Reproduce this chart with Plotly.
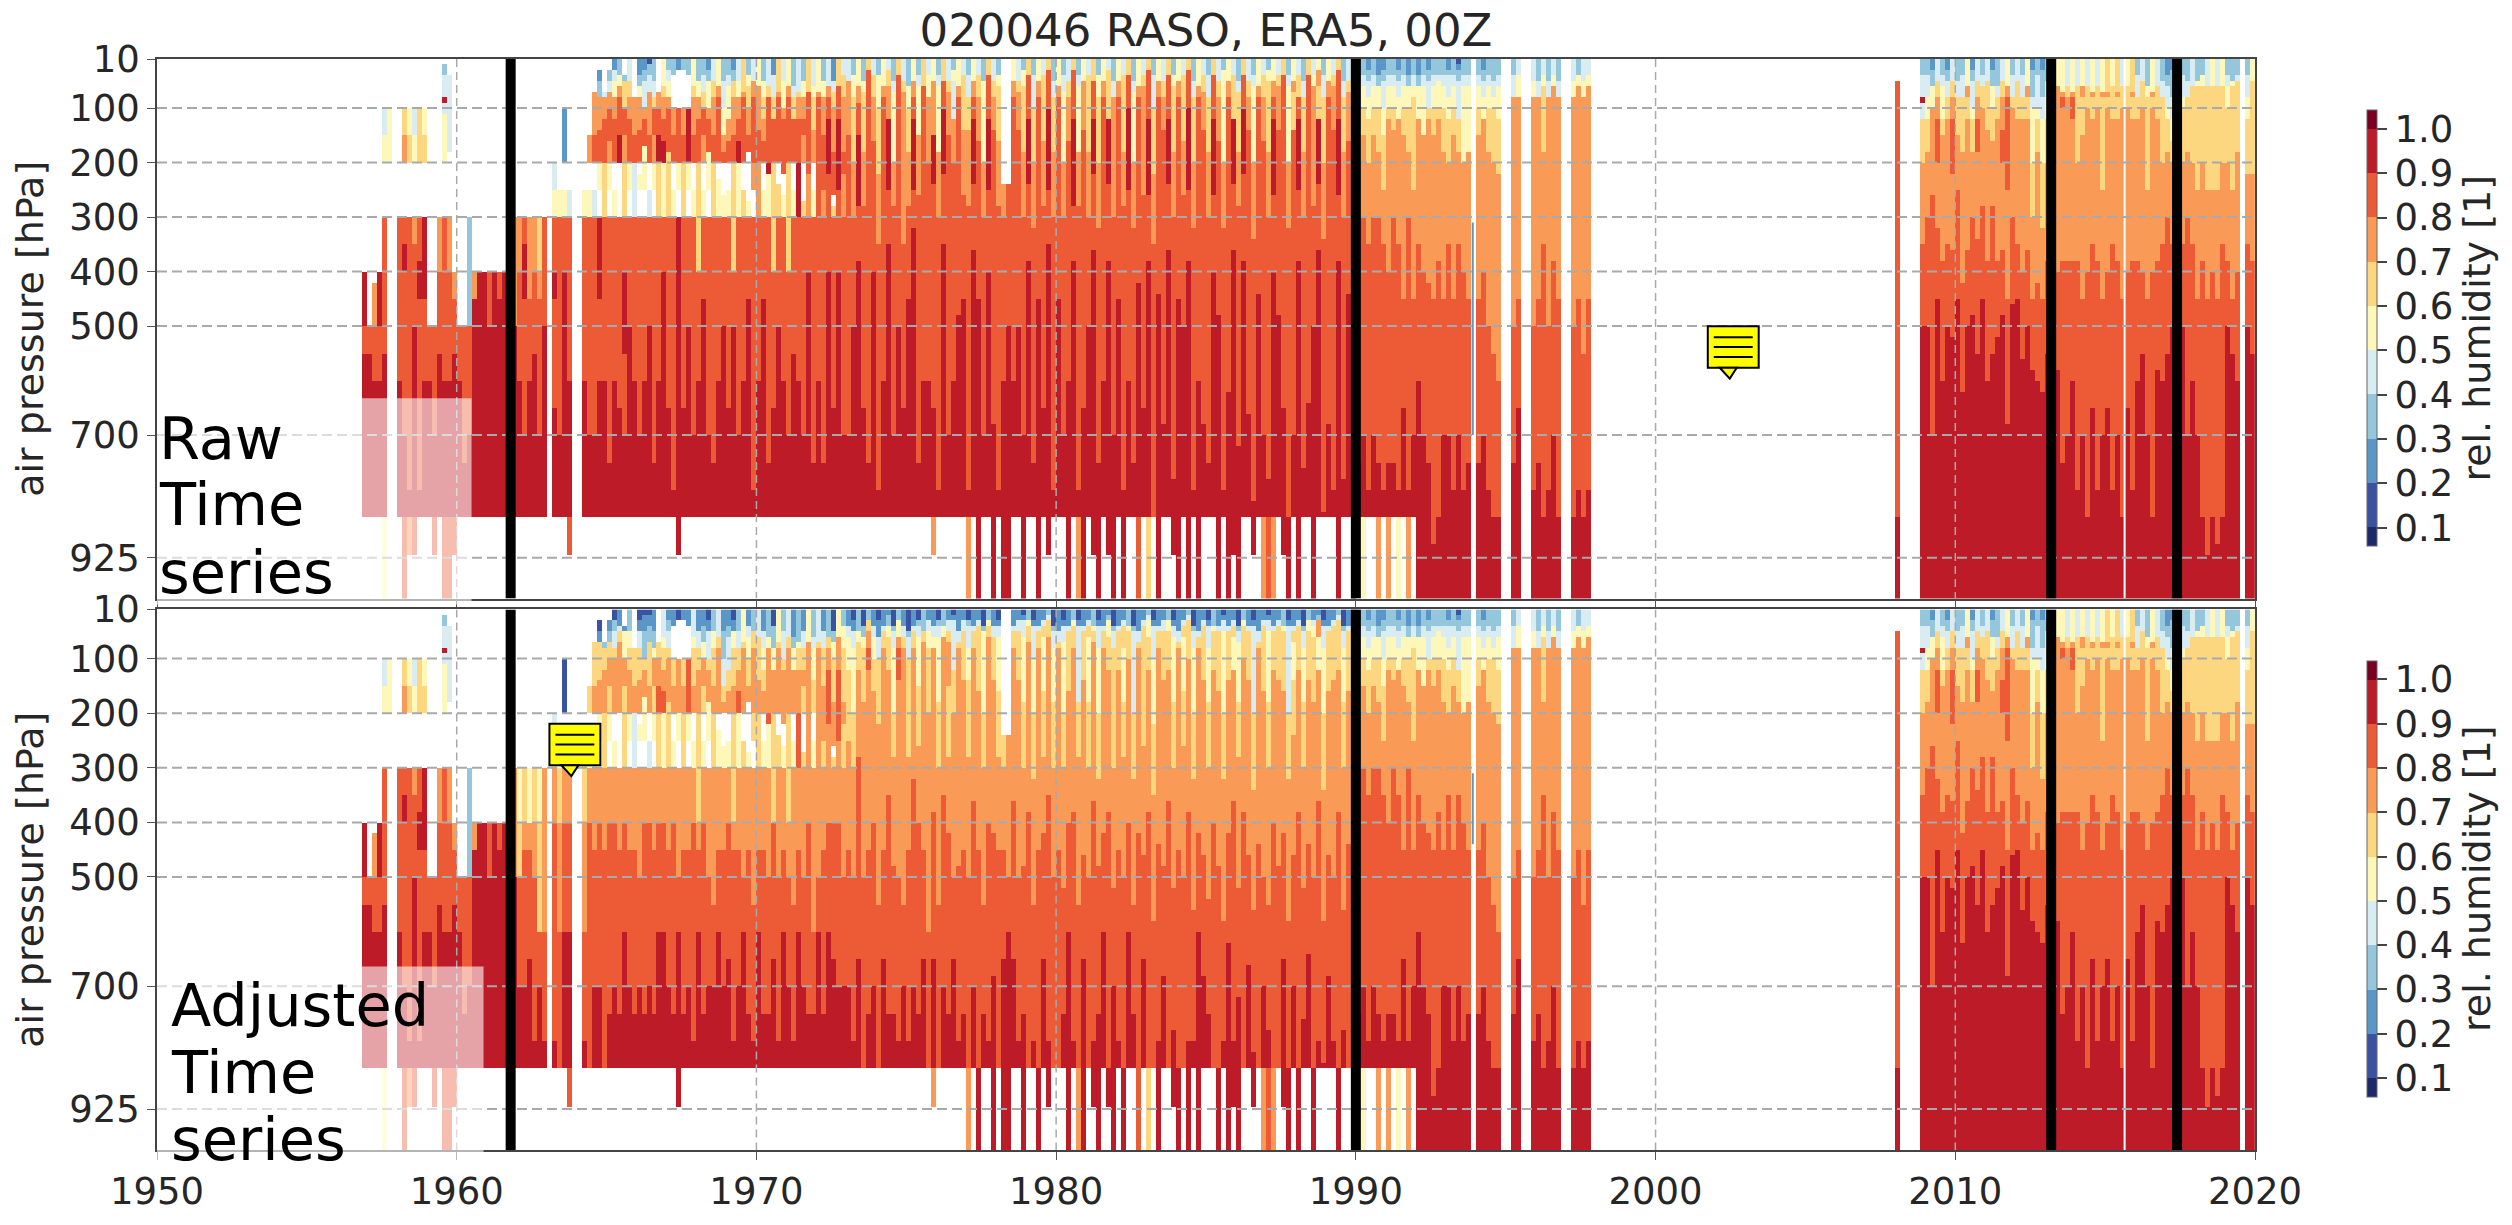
import plotly.graph_objects as go

TITLE = "020046 RASO, ERA5, 00Z"
PRESSURE_TICKS = [10, 100, 200, 300, 400, 500, 700, 925]
YEAR_TICKS = [1950, 1960, 1970, 1980, 1990, 2000, 2010, 2020]
BREAK_YEARS = [1961.8, 1990.0, 2013.2, 2017.4]
CB_TICKS = [0.1, 0.2, 0.3, 0.4, 0.5, 0.6, 0.7, 0.8, 0.9, 1.0]
COLORS = ["#1c2a6b", "#3a52a2", "#5a97c8", "#94c6dc", "#d8ecf2", "#fdf8ba", "#fdd680", "#f99b56", "#ec5a36", "#bd1b27", "#7a0022"]

# One token = one sixth of a year, six tokens per line = one year.
# A token is read from 10 hPa downwards in groups of three characters:
# humidity bin digit (or '.' for no data) + lower pressure limit in tens of hPa (99 = 1000 hPa).
EARLY_1956_61 = """
- - - - - .40950855985
.50855985 .42750860985 .40950860985 .10415520.30730840855985599 .10520 -
.30840860985 .10615720.30835940870985899 .10515620.30850945880985792 .10415520.30735850955985892 .10620.30838945880985 .10515620.30945860985
.50860985 .50870985892 .30740855985 .02304408909411520.30840860985899 .04412418.30740860985899 .40745855985892
.50860985 .50875985 .30350870985 .40745985 .40950985 .40985
.40850985 .40985 .40845985 .40985 .30740985 .30750985
"""

RAW_1962_89 = """
.30740850860985 .30835945870985 .30630745860985 .30740850855985 .30640745870985 .30850960985
- .20425530840945865985 .25530850945870985 .10220.25530840970985 .25430845860985892 -
- .25530850860985 .15720.25530845870985 .07405715820.25430850870985 .03205308714820525.30945860985 .07408712820630850860985
.03305407710816720525.30850875985 203405508712820.25530845860985 304506708815920520.30850865985 .04305610815720630.30840955870985 405608712818820525.30850985 .08507715820430.30845860985
204306508714820.22525.30850870985 203305410712817525.30840860985 102304407715820.25430850985 305408610815720525.30845875985 .07710815920630.30850860985 506608712816920530840950985
303405508710818630850865985 304.10715820.25530845880985 203.10812820525.30950985992 303.10715820630.30840865985 304.10810920525.30850985 506608715820.25530845870985
305508712818820640850860985 304407610815720.25530845985 203305510712818525.30850870985 405608715820920630855875985 506708812820.23530845860985 305410515718820.26530850985
304406512716820.25530840865985 203305608715820640850985 405508712816920530845870985 607708815820.25630850860985 304506610715818.27530845985 405708812820725.30855880985
506708714820730850860985 305508612716820.25530845985 406608812820922530850875985 204408612816820640840865985 607708815820.24630850985 405510712818822.26530845860985
506708815820640850870985 306408612818820.25530855985 407608712820930845860985 305508712815720.27630850870985 607808815822730840985 406508614720.25530860875985
507708812820830850860985 305508715825730845875985 406708812922840955985 205407610718826.28630840865985 606809812925840985 404608718822730850870985
405708715830845870985 304508620730850985 506709815928838960985 305507618728848865985 603806812825845875985 404608716828840985
304510622735855880985 506708815830845860985 403606712925835955985 305407520728848870985 604808814832850985 405607716735855865985
306510618728845985 505708812925832950985 304406515726840875985 606809815830845860985 404508720838860985 505708715924838865985792
304406518730855880985 605808810922835945985 405607715828842870985 303505412720850860985 506708816830848985 404606614726845985
304408614728850880985 505708812924836950985 404608716828845985 305507520730855870985 604806812925840955985 405608714826842868985
304506616728845880985 .24730845860985 .24830850950985 505708812824836860985 405607714826850985 303506618730848870985
604807812924838955985 304410620732855875985 505708815830845985 404606616728842865985 603806810925835950985 305408618730850880985
506708814826845985 304407520730852870985 405608716828840860985 603808812928838952985 304406518728855880985 505707714826846865985
404606618730850985 605807812922836958985 304508620732848875985 505708815825842860985 403606612924838955985 305408716730852870985
505708812826845985 404608618728850880985 604808810925840860985 305407520732855875985 506708814828842985 404606716726846865985
603806812926838950985 304410622735858885985 505708816830844985 405608714826848868985 604807812924836955985 304506618730852878985
505708812828845985 404606616726850985 603806810925838952985 305408620732856880985 506708815830842860985 404607714824846868985
304408618730854875985 604808812926840956985 405608716828848985 303505520732858880985 505708814825842862985 404606612924836950985
305407618728852872985 604807810922838958985 405608714828846866985 304406520734856882985 506708815830844985 404608716826850870985
303505618730855878985 505708812926840955985 404606714826848985 604808816830842865985 304406520732858885985 505707614824846870985
404608812925838956985 305408618730852876985 604808814828844864985 404506718728850985 503706612924836952985 304408620734858884985
505708816830846868985 404606714826850880985 603806812926838958985 305408618730856878985 405607716828844985 304508620732852874985
"""

ADJ_1962_89 = """
.30540650870985 .30640745870985 .30540745865985 .30640750880985 .30540660870985 .30740760880985
- .20425530740850880985 .25530640760885985 .10120.25530740860985 .25430740860985892 -
- .25530640760880985 .15620.25530740860885985 .07305615720.25430745870985 .03105207614720525.30740870985 .07308612720630745865885985
.03205307610715620525.30740875985 103305408610720.25530740870985 204405607712720520.30745875985 .04205510715620630.30740860985 305508612718720525.30745870985 .08407615720430.30745875985
103205408614720.22525.30750870985 102205310612717525.30740875985 102204307615720.25430740870985 205308510715620525.30745875985 .07610715820630.30740860985 406508612716820530740860985
203305408610718630745870985 204.10615720.25530740875985 103.10712720525.30750860985992 203.10615720630.30745875985 204.10710820525.30745870985 406508615720.25530740880985
205408612718720640745860985 204307510715620.25530740875985 103205410612718525.30750870985 305508615720820630755870985 406608712720.23530745860985 205310415618720.26530745870985
204306412616720.25530740865985 103205508615720640745880985 305408612716820530745870985 507608715720.25630750860985 204406510615718.27530745875985 305608712720625.30755880985
406608614720630745860985 205408512616720.25530745875985 306508712720822530750875985 104308512716720640740865985 507608715720.24630750880985 305410612718722.26530745860985
406608715720640750870985 206308512718720.25530755880985 307508612720830745860985 205408612715620.27630750870985 507708715722730740875985 306408514620.25530760875985
407608712720730750860985 205408615725630745875985 306608712822740860985 105307510618726.28630740865985 506708712825740870985 304508618722630750870985
204406512625745870985 103205408520630750880985 305507612715728845865985 104306508618728750885985 303605708812725745875985 204406510616728740870985
103206410622735755885985 204405608715730745865985 202304506612725735855875985 104305408520628748875985 303506708814732750880985 204406608716735755870985
105306410618628745880985 204405608712725732850870985 103304406515626740875985 305607709715730745865985 203405508620738760885985 204406508715724738865985792
103304406518630755885985 304506708710722735845870985 203405607715628742875985 102203405412620750865985 205407608716730748880985 203405606614726745875985
103304408514628750885985 204405608712724736850870985 203404608616728745885985 104305507520630755875985 303504606712725740855880985 204406608614726742868985
103204406516628745885985 .24630745865985 .24730750860985 204405608712724736865985 203405607614726750880985 102203406518630748875985
303504607712724738855885985 103204410520632755880985 204405608715730745885985 203404606516628742865985 302403606710725735850880985 104305408518630750885985
205407608714726745885985 103204407520630752875985 204405608616728740860985 303504608712728738852880985 103204406418628755885985 204405607614726746865985
203404606518630750885985 304505607712722736858880985 103204408520632748875985 204405608715725742860985 202303506612724738855885985 104305408616630752870985
204405608612726745880985 203404608518628750885985 304505608610725740860985 104305407420632755875985 205407608714728742885985 203404606616626746865985
302403506612726738850885985 103204410522635758885985 204405608716730744880985 203405608614726748868985 303505607612724736855885985 103204406518630752878985
205407608712728745885985 203404606516626750885985 302403606610725738852880985 104305408520632756880985 205406608715730742860985 203404607614724746868985
103204408518630754875985 304505608612726740856885985 204405608616728748885985 102203405520632758880985 204405608614725742862985 203404606512724736850880985
104305407518628752872985 303504607610722738858885985 204405608614728746866985 103204406420634756882985 205407608715730744885985 203404608616726750870985
102203405518630755878985 204405608612726740855885985 203404606614726748885985 304505608616730742865985 103204406420632758885985 204405607514624746870985
203404608612725738856885985 104305408518630752876985 303505608614728744864985 203404506618728750885985 202303706512724736852880985 103204408520634758884985
204405608616730746868985 203404606614726750880985 302403606612726738858885985 104305408518630756878985 204405607616728744885985 103204508520632752874985
"""

NINETIES_1990_97 = """
203305410515620730855875985 304406510615730840870985 203305408512620735855880985 304406510615730845870985 204306510618730850875985 203305410515625735860880985
304406510612725740860875985 304406510614730840875985 203305408512720735850880985 304406510615730745865985 204306510618730850880985 304406508612625745870985
204306510512720735840860999 304406510515720740850870999 203305410612725742855875999 304406510615728745860880890999 304405510612725738850885999 304406510618730745858870999
203304408512620735850870999 304406510615730745855880999 102203305412618735848870999 304406510520730740860880999 304406510518730745860875999 -
304406510615730745860875999 203305408512725740850870999 304406510618730750865880999 305408510620735755870885999 304406512622740760875885999 -
- 304408720750875999 404508718745865999 - - 405508720750880999
305408720745875999 404506618735855885999 305408725750880999 404506720738870999 305408722745885999 -
- 405508725750885999 304506720745880999 405508725755885999 404506722745880999 -
"""

LATE_2008_19 = """
.05885999 - - - - 304408909412620735850999
304408512618730850999 203306510715726840870999 405608712820732845999 304406512615722738860999 203305408612720735850999 405608712822736852999
305408610615725845999 304408612618730742862999 506708612720736850999 203305410512618730848999 405608712818734855999 304406610716728845999
405608614720738860999 203306510616728840855999 306408612722738852999 405608714820736848999 506708812825745868999 304408610718730846999
405608612720735845999 304408612725740856999 506708612718736850999 203308410520630745858999 304410512618726742860999 203308412520632745862999
305408512620738855999 406608712720738848999 506708712722740858999 507708810725738852875999 406608712722738855870999 507708812725738860999
406608612620738855880999 506708615725745870999 406608610720740860885999 507708612720735865999 406608610718738855880999 507708612625745870999
607708610720740865999 506608612718735860880999 607708612720738870999 406608610720745860885999 506608610718740865999 607708612725738860880999
304408612720738860999 405608610720740855999 306508612625745870999 507708610720740865885999 406608612718738858999 305408610620735860999
204306410512618730855999 203308412516620735850999 204306410514620730850999 304408510620735850999 305408610618730850870999 406608612620735860999
305506612625745870999 304506610620738860885999 406606612625745865892999 506608612625740870885999 406606615625745865890999 506608612620735855885999
304406510620738850999 305506612625745855999 304405610618730740860999 - 304408512622735850999 505606612622738855999
"""

# Stripes below 850 hPa, 1977-1991, shared by both panels: one string per year, one character per sixth of a year.
# A digit fills down to 1000 hPa, 'n' is bin 9 down to 925 hPa, '.' is no data.
BELOW_850_1977_91 = ["7.9..9", ".99..9", "..9.n.", "..9.79", ".n9.n9", ".9..8.", "6.9..n", "9.9.9.",
                     "..9.9n", "9..n.7", "87.n9.", "9..9..", "..9..9", ".5..7.", "7.5.7."]

BLUE_STREAK_YEAR = 1993.9
BLUE_STREAK_RAW = [310, 700]
BLUE_STREAK_ADJ = [310, 440]
WHITE_GAP_YEAR = 2015.65


def parse(block):
    cols = []
    for line in block.strip().splitlines():
        toks = line.split()
        cols += (toks + ["-"] * 6)[:6]
    return cols


P_EDGES = [10 * i for i in range(1, 101)]
ROWS = len(P_EDGES) - 1


def decode(tok):
    out = [None] * ROWS
    if tok == "-":
        return out
    top = 1
    for i in range(0, len(tok) - 2, 3):
        b, low = tok[i], int(tok[i + 1:i + 3])
        low = 100 if low == 99 else low
        for r in range(top - 1, min(low - 1, ROWS)):
            out[r] = None if b == "." else int(b) / 10 + 0.05
        top = max(top, low)
    return out


def grid(mid):
    cols = parse(EARLY_1956_61) + parse(mid) + parse(NINETIES_1990_97) + ["-"] * 60 + parse(LATE_2008_19)
    dec = [decode(c) for c in cols]
    for y, s in enumerate(BELOW_850_1977_91):
        for k, ch in enumerate(s):
            d = dec[(1977 + y - 1956) * 6 + k]
            for r in range(84, ROWS):
                p = 10 * (r + 1)
                if ch == ".":
                    d[r] = None
                elif ch == "n":
                    d[r] = 0.95 if p < 920 else None
                else:
                    d[r] = int(ch) / 10 + 0.05
    z = [[d[r] for d in dec] for r in range(ROWS)]
    return z, [1956 + i / 6 for i in range(len(cols) + 1)]


W, H = 2512, 1225
L, R, T, B = 157, 2258, 59, 1165
PANEL1 = (59, 606)
PANEL2 = (617, 1165)


def xp(x):
    return (x - L) / (R - L)


def yp(y):
    return (B - y) / (B - T)


ZMIN, ZMAX = 0.058, 1.042
edges = [ZMIN] + [0.1 * i for i in range(1, 11)] + [ZMAX]
cscale = []
for i, c in enumerate(COLORS):
    cscale.append([(edges[i] - ZMIN) / (ZMAX - ZMIN), c])
    cscale.append([(edges[i + 1] - ZMIN) / (ZMAX - ZMIN), c])
cscale[-1][0] = 1.0


def cbar(center):
    return dict(
        x=xp(2370), xanchor="left", xpad=0, y=yp(center), yanchor="middle", ypad=0,
        lenmode="pixels", len=436, thickness=10,
        outlinecolor="#666666", outlinewidth=1,
        tickmode="array", tickvals=CB_TICKS, tickformat=".1f",
        ticks="outside", ticklen=10, tickwidth=1.5, tickcolor="#444444",
        tickfont=dict(family="DejaVu Sans", size=37, color="#262626"),
        title=dict(text="rel. humidity [1]", side="right",
                   font=dict(family="DejaVu Sans", size=38, color="#262626")),
    )


fig = go.Figure()
for idx, (mid, streak) in enumerate([(RAW_1962_89, BLUE_STREAK_RAW), (ADJ_1962_89, BLUE_STREAK_ADJ)]):
    xa = "x" if idx == 0 else "x2"
    ya = "y" if idx == 0 else "y2"
    z, xe = grid(mid)
    fig.add_trace(go.Heatmap(x=xe, y=P_EDGES, z=z, coloraxis="coloraxis" if idx == 0 else "coloraxis2",
                             xaxis=xa, yaxis=ya, hoverongaps=False))
    fig.add_trace(go.Scatter(x=[BLUE_STREAK_YEAR] * 2, y=streak, mode="lines", xaxis=xa, yaxis=ya,
                             line=dict(color="#5a97c8", width=2), showlegend=False))
    fig.add_trace(go.Scatter(x=[WHITE_GAP_YEAR] * 2, y=[10, 1000], mode="lines", xaxis=xa, yaxis=ya,
                             line=dict(color="white", width=2), showlegend=False))
    for p in PRESSURE_TICKS[1:]:
        fig.add_trace(go.Scatter(x=[1950, 2020], y=[p, p], mode="lines", xaxis=xa, yaxis=ya, showlegend=False,
                                 line=dict(color="#a9a9a9", width=2, dash="10px,5px")))
    for yr in YEAR_TICKS[1:-1]:
        fig.add_trace(go.Scatter(x=[yr, yr], y=[10, 1000], mode="lines", xaxis=xa, yaxis=ya, showlegend=False,
                                 line=dict(color="#a9a9a9", width=1.5, dash="8px,5px")))
    for yr in BREAK_YEARS:
        fig.add_trace(go.Scatter(x=[yr, yr], y=[10, 1000], mode="lines", xaxis=xa, yaxis=ya, showlegend=False,
                                 line=dict(color="black", width=10)))

shapes = []


def rect(x0, y0, x1, y1, **kw):
    shapes.append(dict(type="rect", xref="paper", yref="paper", x0=xp(x0), x1=xp(x1), y0=yp(y1), y1=yp(y0),
                       layer="above", **kw))


rect(157, 403, 472, 612, fillcolor="rgba(255,255,255,0.6)", line=dict(width=0))
rect(157, 979, 484, 1186, fillcolor="rgba(255,255,255,0.6)", line=dict(width=0))


def note(x0, y0):
    w, h = 51, 42
    rect(x0, y0, x0 + w, y0 + h, fillcolor="#ffff00", line=dict(color="black", width=2))
    tx = x0 + 12
    path = "M{} {} L{} {} L{} {} Z".format(xp(tx), yp(y0 + h), xp(tx + 10), yp(y0 + h + 11), xp(tx + 17), yp(y0 + h))
    shapes.append(dict(type="path", xref="paper", yref="paper", path=path, fillcolor="#ffff00",
                       line=dict(color="black", width=2), layer="above"))
    for k in (11, 21, 31):
        shapes.append(dict(type="line", xref="paper", yref="paper", x0=xp(x0 + 6), x1=xp(x0 + w - 6),
                           y0=yp(y0 + k), y1=yp(y0 + k), line=dict(color="black", width=2), layer="above"))


note(1710, 330)
note(550, 733)

annotations = []


def label(text, x, baseline):
    annotations.append(dict(text=text, xref="paper", yref="paper", x=xp(x), y=yp(baseline + 14), xanchor="left",
                            yanchor="bottom", showarrow=False, borderpad=0,
                            font=dict(family="DejaVu Sans", size=59, color="black")))


for t, b in zip(["Raw", "Time", "series"], [466, 533, 602]):
    label(t, 158, b)
for t, b in zip(["Adjusted", "Time", "series"], [1040, 1108, 1176]):
    label(t, 170, b)

tickfont = dict(family="DejaVu Sans", size=37, color="#262626")
ax_common = dict(range=[1950, 2020], tickmode="array", tickvals=YEAR_TICKS, showgrid=False, zeroline=False,
                 showline=True, mirror=True, linecolor="#444444", linewidth=1.5, ticks="outside",
                 ticklen=8, tickwidth=1, tickcolor="#555555", tickfont=tickfont)
ay_common = dict(range=[1000, 10], tickmode="array", tickvals=PRESSURE_TICKS, showgrid=False, zeroline=False,
                 showline=True, mirror=True, linecolor="#444444", linewidth=1.5, ticks="outside",
                 ticklen=8, tickwidth=1, tickcolor="#555555", tickfont=tickfont,
                 title=dict(text="air pressure [hPa]", standoff=14,
                            font=dict(family="DejaVu Sans", size=38, color="#262626")))

fig.update_layout(
    width=W, height=H, margin=dict(l=L, r=W - R, t=T, b=H - B), paper_bgcolor="white", plot_bgcolor="white",
    showlegend=False,
    title=dict(text=TITLE, x=1206 / W, xanchor="center", xref="container", y=1 - 30 / H, yanchor="middle",
               font=dict(family="DejaVu Sans", size=45, color="#262626")),
    xaxis=dict(ax_common, domain=[0, 1], anchor="y", showticklabels=False),
    yaxis=dict(ay_common, domain=[yp(PANEL1[1]), yp(PANEL1[0])], anchor="x"),
    xaxis2=dict(ax_common, domain=[0, 1], anchor="y2"),
    yaxis2=dict(ay_common, domain=[yp(PANEL2[1]), yp(PANEL2[0])], anchor="x2"),
    coloraxis=dict(colorscale=cscale, cmin=ZMIN, cmax=ZMAX, colorbar=cbar(332)),
    coloraxis2=dict(colorscale=cscale, cmin=ZMIN, cmax=ZMAX, colorbar=cbar(890)),
    shapes=shapes, annotations=annotations,
)

fig.write_html("out.html", config={"displayModeBar": False}, post_script="document.body.style.margin='0';")
